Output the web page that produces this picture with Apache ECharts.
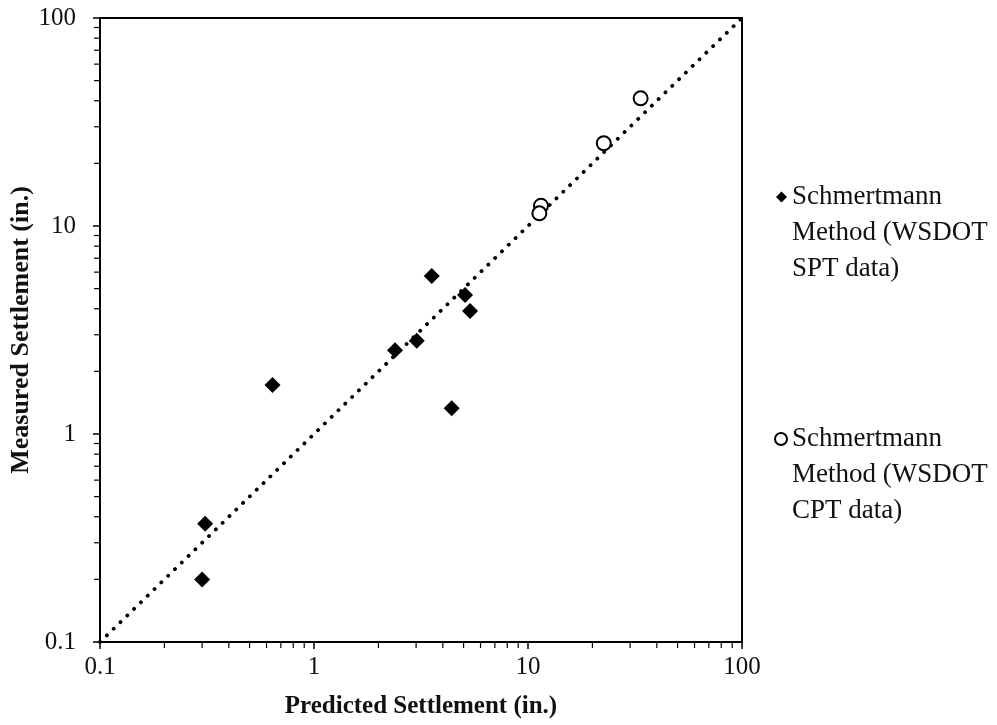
<!DOCTYPE html>
<html>
<head>
<meta charset="utf-8">
<script src="https://cdn.jsdelivr.net/npm/echarts@6/dist/echarts.min.js"></script>
<style>html,body{margin:0;padding:0;background:#fff}#c{width:997px;height:725px}</style>
</head>
<body>
<div id="c"></div>
<script>
// Data
const sptPredicted = [0.30, 0.31, 0.64, 2.39, 3.02, 3.55, 5.08, 5.36, 4.40];
const sptMeasured  = [0.20, 0.37, 1.72, 2.53, 2.81, 5.75, 4.66, 3.90, 1.33];
const cptPredicted = [33.6, 22.6, 11.5, 11.3];
const cptMeasured  = [41.1, 25.0, 12.5, 11.5];
const lineX = [0.1, 100];
const lineY = [0.1, 100];
const majorTicks = [0.1, 1, 10, 100];
const minorTickValues = [0.2,0.3,0.4,0.5,0.6,0.7,0.8,0.9, 2,3,4,5,6,7,8,9, 20,30,40,50,60,70,80,90];

const FONT = 'Liberation Serif';
const spt = sptPredicted.map((x, i) => [x, sptMeasured[i]]);
const cpt = cptPredicted.map((x, i) => [x, cptMeasured[i]]);
const oneToOne = lineX.map((x, i) => [x, lineY[i]]);

const chart = echarts.init(document.getElementById('c'));
const axisCommon = {
  type: 'log', logBase: 10, min: 0.1, max: 100,
  splitLine: { show: false },
  axisLine: { show: true, lineStyle: { color: '#000', width: 2 } },
  axisTick: { show: true, inside: false, length: 7, lineStyle: { color: '#000', width: 1.5 } },
  axisLabel: { fontFamily: FONT, fontSize: 25, color: '#111',
    formatter: v => { const r = majorTicks.find(t => Math.abs(t - v) / t < 1e-6); return r === undefined ? '' : String(r); } },
  nameLocation: 'middle',
  nameMoveOverlap: false,
  nameTextStyle: { fontFamily: FONT, fontSize: 25, fontWeight: 'bold', color: '#111' }
};

const legendText = { fontFamily: FONT, fontSize: 27, color: '#111', lineHeight: 36 };

chart.setOption({
  animation: false,
  grid: { left: 100, right: 255, top: 18, bottom: 83, outerBoundsMode: 'none', containLabel: false,
    show: true, borderColor: '#000', borderWidth: 2, backgroundColor: 'transparent' },
  xAxis: Object.assign({}, axisCommon, { name: 'Predicted Settlement (in.)', nameGap: 52,
    axisLabel: Object.assign({}, axisCommon.axisLabel, { margin: 13 }) }),
  yAxis: Object.assign({}, axisCommon, { name: 'Measured Settlement (in.)', nameGap: 66, nameRotate: 90,
    nameTextStyle: Object.assign({}, axisCommon.nameTextStyle, { fontSize: 26 }),
    axisLabel: Object.assign({}, axisCommon.axisLabel, { margin: 24 }) }),
  legend: [
    { data: ['SPT'], orient: 'vertical', left: 771, top: 102, itemWidth: 11, itemHeight: 11, itemGap: 0,
      textStyle: legendText,
      formatter: () => '\n\nSchmertmann\nMethod (WSDOT\nSPT data)' },
    { data: ['CPT'], orient: 'vertical', left: 769, top: 344, itemWidth: 12, itemHeight: 12, itemGap: 0,
      textStyle: legendText,
      formatter: () => '\n\nSchmertmann\nMethod (WSDOT\nCPT data)' }
  ],
  series: [
    { name: 'oneToOne', type: 'line', data: oneToOne, symbol: 'none', z: 1,
      lineStyle: { color: '#000', width: 3.8, type: [0.1, 9.4], cap: 'round' } },
    { name: 'minorTicks', type: 'custom', clip: false, silent: true, z: 1,
      data: minorTickValues.map(v => [v]),
      encode: { x: 0 },
      renderItem: (params, api) => {
        const v = api.value(0);
        const px = api.coord([v, 0.1]);
        const py = api.coord([0.1, v]);
        const st = { stroke: '#000', lineWidth: 1.2 };
        return { type: 'group', children: [
          { type: 'line', shape: { x1: px[0], y1: px[1], x2: px[0], y2: px[1] + 6 }, style: st },
          { type: 'line', shape: { x1: py[0], y1: py[1], x2: py[0] - 6, y2: py[1] }, style: st }
        ] };
      } },
    { name: 'SPT', type: 'scatter', data: spt, symbol: 'diamond', symbolSize: 16, z: 3,
      itemStyle: { color: '#000', opacity: 1 } },
    { name: 'CPT', type: 'scatter', data: cpt, symbol: 'circle', symbolSize: 14, z: 3,
      itemStyle: { color: '#fff', borderColor: '#000', borderWidth: 2, opacity: 1 } }
  ]
});
</script>
</body>
</html>
